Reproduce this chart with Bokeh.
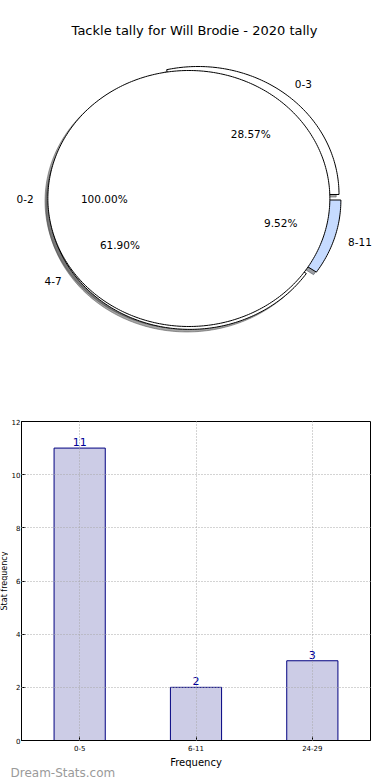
import numpy as np
from bokeh.plotting import figure
from bokeh.models import Range1d, Label, FactorRange, FixedTicker, Title
from bokeh.layouts import column, row
from bokeh.embed import file_html
from bokeh.resources import INLINE
from bokeh.core.properties import value

# ---------------- data ----------------
title_text = "Tackle tally for Will Brodie - 2020 tally"

inner_labels = ["0-2"]
inner_counts = [1]
inner_colors = ["#ffffff"]

outer_labels = ["0-3", "4-7", "8-11"]
outer_counts = [6, 13, 2]
outer_colors = ["#ffffff", "#ffffff", "#c6dbff"]

bar_cats = ["0-5", "6-11", "24-29"]
bar_vals = [11, 2, 3]
y_ticks = [0, 2, 4, 6, 8, 10, 12]
x_title = "Frequency"
y_title = "Stat frequency"
watermark = "Dream-Stats.com"

FONT = "DejaVu Sans"

# ---------------- pie figure ----------------
EXPLODE = 0.04
SX, SY = 141.0, 128.0          # pixels per data unit
W1, H1 = 390, 398
CX, CY = 194.0, 200.0          # pie centre (px from left / from bottom)

p1 = figure(width=W1, height=H1,
            x_range=Range1d(-CX / SX, (W1 - CX) / SX),
            y_range=Range1d(-CY / SY, (H1 - CY) / SY),
            x_axis_location=None, y_axis_location=None,
            output_backend="svg", toolbar_location=None, min_border=0)
p1.grid.visible = False
p1.outline_line_color = None


def shade(hexcol):
    h = hexcol.lstrip("#")
    r, g, b = (int(h[i:i + 2], 16) for i in (0, 2, 4))
    return "#%02x%02x%02x" % (int(r * 0.3), int(g * 0.3), int(b * 0.3))


def build(counts, colors):
    total = float(sum(counts))
    t1 = 0.0
    out = []
    for c, col in zip(counts, colors):
        frac = c / total
        t2 = t1 + frac
        tm = np.pi * (t1 + t2)
        ox, oy = EXPLODE * np.cos(tm), EXPLODE * np.sin(tm)
        if frac > 1 - 1e-9:
            th = np.linspace(0, 2 * np.pi, 361)
            xs = ox + np.cos(th)
            ys = oy + np.sin(th)
        else:
            th = np.linspace(2 * np.pi * t1, 2 * np.pi * t2, int(360 * frac) + 3)
            xs = np.concatenate([[ox], ox + np.cos(th), [ox]])
            ys = np.concatenate([[oy], oy + np.sin(th), [oy]])
        out.append(dict(xs=list(xs), ys=list(ys), tm=tm, ox=ox, oy=oy,
                        frac=frac, color=col))
        t1 = t2
    return out


inner = build(inner_counts, inner_colors)
outer = build(outer_counts, outer_colors)

# shadows (drawn beneath every wedge)
for w in outer + inner:
    sc = shade(w["color"])
    p1.patch([x - 0.02 for x in w["xs"]], [y - 0.02 for y in w["ys"]],
             fill_color=sc, fill_alpha=0.5, line_color=sc, line_alpha=0.5,
             line_width=1)

for w in outer + inner:
    p1.patch(w["xs"], w["ys"], fill_color=w["color"], line_color="black",
             line_width=1)

for labels, wedges in ((outer_labels, outer), (inner_labels, inner)):
    for lab, w in zip(labels, wedges):
        xt = w["ox"] + 1.1 * np.cos(w["tm"])
        yt = w["oy"] + 1.1 * np.sin(w["tm"])
        p1.add_layout(Label(x=xt, y=yt, text=lab,
                            text_align="left" if xt > 0 else "right",
                            text_baseline="middle", text_font=FONT,
                            text_font_size="10.5px", text_color="#000000"))
        xp = w["ox"] + 0.6 * np.cos(w["tm"])
        yp = w["oy"] + 0.6 * np.sin(w["tm"])
        p1.add_layout(Label(x=xp, y=yp, text="%1.2f%%" % (w["frac"] * 100),
                            text_align="center", text_baseline="middle",
                            text_font=FONT, text_font_size="10.5px",
                            text_color="#000000"))

p1.add_layout(Label(x=0.0, y=(H1 - CY - 30) / SY, text=title_text,
                    text_align="center", text_baseline="middle",
                    text_font=FONT, text_font_size="13px", text_color="#000000"))

# ---------------- bar figure ----------------
WL = 8                                   # strip holding the y title
W2, H2 = 390 - WL, 382
LEFT, RIGHT, TOP, BOTTOM = 11, 20, 23, 40

p2 = figure(width=W2, height=H2,
            x_range=FactorRange(*bar_cats),
            y_range=Range1d(0, 12),
            output_backend="svg", toolbar_location=None,
            min_border_left=LEFT, min_border_right=RIGHT,
            min_border_top=TOP, min_border_bottom=BOTTOM)

p2.vbar(x=bar_cats, top=bar_vals, width=0.44, fill_color="#ccccE6",
        line_color="#000080", line_width=1)
p2.text(x=bar_cats, y=bar_vals, text=[str(v) for v in bar_vals],
        text_align="center", text_baseline="bottom", y_offset=-2,
        text_font_size="11px", text_color="#000099",
        text_font=value(FONT))

p2.outline_line_color = "black"
p2.outline_line_width = 1

p2.yaxis.ticker = FixedTicker(ticks=y_ticks)
p2.ygrid.ticker = FixedTicker(ticks=y_ticks)
for ax in (p2.xaxis[0], p2.yaxis[0]):
    ax.major_tick_in = 4
    ax.major_tick_out = 0
    ax.minor_tick_line_color = None
    ax.axis_line_color = "black"
    ax.major_tick_line_color = "black"
    ax.major_label_text_font = FONT
    ax.major_label_text_font_size = "7px"
    ax.major_label_text_color = "black"
    ax.axis_label_text_font = FONT
    ax.axis_label_text_font_size = "10px"
    ax.axis_label_text_font_style = "normal"
    ax.axis_label_text_color = "black"
p2.yaxis.major_label_standoff = 1
p2.xaxis.major_label_standoff = 4
p2.xaxis.axis_label = x_title
p2.xaxis.axis_label_standoff = 3

for g in (p2.xgrid[0], p2.ygrid[0]):
    g.grid_line_color = "#a8a8a8"
    g.grid_line_dash = "1 2"
    g.grid_line_width = 1
    g.level = "overlay"

p2.add_layout(Title(text=watermark, align="left", offset=-LEFT,
                    standoff=-14, text_font=FONT, text_font_size="12px",
                    text_font_style="normal", text_color="#9a9a9a"), "below")

# narrow strip with the y-axis title
pL = figure(width=WL, height=H2, x_range=Range1d(0, 1), y_range=Range1d(0, 12),
            x_axis_location=None, y_axis_location=None,
            output_backend="svg", toolbar_location=None,
            min_border_left=0, min_border_right=0,
            min_border_top=TOP, min_border_bottom=BOTTOM)
pL.grid.visible = False
pL.outline_line_color = None
pL.text(x=[0.45], y=[6], text=[y_title], angle=np.pi / 2,
        text_align="center", text_baseline="middle",
        text_font=value(FONT), text_font_size="8px", text_color="black")

layout = column(row(p1), row(pL, p2, spacing=0), spacing=0)
open("out.html", "w").write(file_html(layout, INLINE))
